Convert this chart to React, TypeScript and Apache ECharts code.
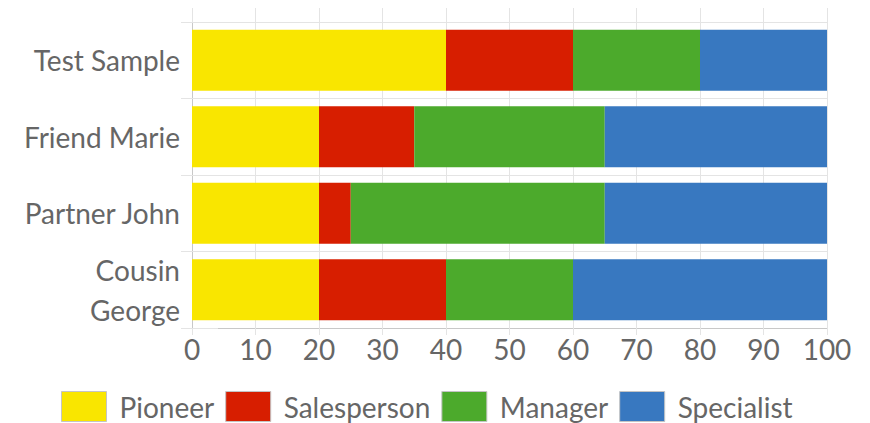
import React, { useEffect, useRef } from "react";
import * as echarts from "echarts";

const categories = ["Test Sample", "Friend Marie", "Partner John", "Cousin\nGeorge"];
const seriesNames = ["Pioneer", "Salesperson", "Manager", "Specialist"];
const pioneer = [40, 20, 20, 20];
const salesperson = [20, 15, 5, 20];
const manager = [20, 30, 40, 20];
const specialist = [20, 35, 35, 40];
const colors = ["#f9e600", "#d71e00", "#4caa2c", "#3878c0"];
const xTicks = { min: 0, max: 100, interval: 10 };

const FONT = "Lato";
const GRID = "#e4e4e4";
const AXIS = "#c8c8c8";

export default function App() {
  const ref = useRef<HTMLDivElement>(null);
  useEffect(() => {
    if (!ref.current) return;
    const chart = echarts.init(ref.current, null, { renderer: "svg" });
    const values = [pioneer, salesperson, manager, specialist];
    chart.setOption({
      animation: false,
      textStyle: { fontFamily: FONT },
      grid: { left: 192, right: 43, top: 22, bottom: 95, containLabel: false },
      legend: {
        left: 61,
        top: 391,
        padding: 0,
        itemWidth: 45,
        itemHeight: 30,
        itemGap: 11,
        icon: "rect",
        itemStyle: { borderColor: "#c4c4c4", borderWidth: 1 },
        textStyle: {
          fontFamily: FONT,
          fontSize: 28,
          lineHeight: 30,
          color: "#666",
          padding: [0, 0, 0, 8],
        },
        data: seriesNames,
      },
      xAxis: [
        {
          type: "value",
          position: "bottom",
          min: xTicks.min,
          max: xTicks.max,
          interval: xTicks.interval,
          axisLine: { show: true, lineStyle: { color: AXIS } },
          axisTick: { show: true, length: 7, lineStyle: { color: GRID } },
          splitLine: { show: true, lineStyle: { color: GRID } },
          axisLabel: { fontFamily: FONT, fontSize: 28, color: "#666", margin: 7 },
        },
        {
          type: "value",
          position: "top",
          min: xTicks.min,
          max: xTicks.max,
          interval: xTicks.interval,
          axisLine: { show: false },
          axisTick: { show: true, length: 14, lineStyle: { color: GRID } },
          splitLine: { show: false },
          axisLabel: { show: false },
        },
      ],
      yAxis: [
        {
          type: "category",
          inverse: true,
          data: categories,
          position: "left",
          axisLine: { show: true, lineStyle: { color: AXIS } },
          axisTick: { show: true, length: 11, lineStyle: { color: GRID } },
          splitLine: { show: true, lineStyle: { color: GRID } },
          axisLabel: {
            fontFamily: FONT,
            fontSize: 28,
            color: "#666",
            margin: 12,
            lineHeight: 40,
            padding: [0, 0, 6, 0],
          },
        },
        {
          type: "category",
          inverse: true,
          data: categories,
          position: "right",
          axisLine: { show: false },
          axisTick: { show: true, length: 26, lineStyle: { color: GRID } },
          splitLine: { show: false },
          axisLabel: { show: false },
        },
      ],
      series: seriesNames.map((name, i) => ({
        name,
        type: "bar",
        stack: "total",
        xAxisIndex: 0,
        yAxisIndex: 0,
        barWidth: "80%",
        data: values[i],
        itemStyle: { color: colors[i] },
      })),
    });
    return () => chart.dispose();
  }, []);
  return (
    <div
      ref={ref}
      style={{ position: "fixed", left: 0, top: 0, width: 870, height: 423, background: "#fff" }}
    />
  );
}
